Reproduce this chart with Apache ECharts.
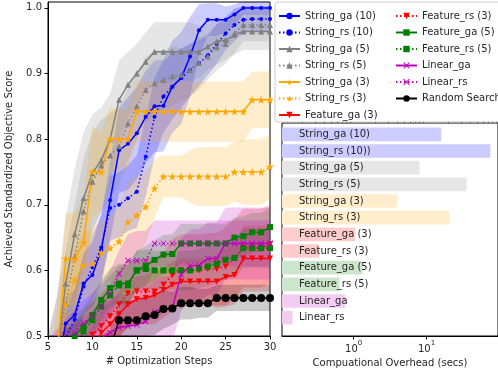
<!DOCTYPE html>
<html><head><meta charset="utf-8">
<script src="https://cdn.jsdelivr.net/npm/echarts@6/dist/echarts.min.js"></script>
<style>html,body{margin:0;padding:0;background:#fff}#chart{width:498px;height:379px}</style>
</head><body><div id="chart"></div>
<script>
// Optimization steps shown on the x axis
const steps = [5,6,7,8,9,10,11,12,13,14,15,16,17,18,19,20,21,22,23,24,25,26,27,28,29,30];

// Mean achieved standardized score per step
const strGa10 = [0.40,0.45,0.519,0.532,0.58,0.593,0.631,0.707,0.783,0.793,0.809,0.834,0.85,0.851,0.88,0.893,0.926,0.966,0.982,0.982,0.982,0.99,1.0,1.0,1.0,1.0];
const strRs10 = [0.40,0.45,0.497,0.525,0.575,0.605,0.635,0.695,0.70,0.71,0.72,0.773,0.834,0.865,0.88,0.893,0.905,0.916,0.928,0.945,0.961,0.974,0.982,0.983,0.983,0.983];
const strGa5 = [0.42,0.47,0.58,0.655,0.71,0.748,0.768,0.80,0.86,0.883,0.90,0.918,0.933,0.933,0.933,0.933,0.933,0.933,0.941,0.949,0.951,0.959,0.964,0.964,0.964,0.964];
const strRs5 = [0.42,0.48,0.55,0.62,0.69,0.735,0.76,0.775,0.789,0.824,0.85,0.875,0.885,0.89,0.896,0.898,0.905,0.916,0.926,0.94,0.945,0.961,0.974,0.974,0.974,0.974];
const strGa3 = [0.38,0.47,0.618,0.617,0.643,0.75,0.75,0.80,0.80,0.80,0.842,0.842,0.842,0.842,0.842,0.842,0.842,0.842,0.842,0.842,0.842,0.842,0.842,0.86,0.86,0.86];
const strRs3 = [0.40,0.45,0.548,0.585,0.608,0.61,0.627,0.634,0.644,0.674,0.684,0.697,0.725,0.743,0.743,0.743,0.743,0.743,0.743,0.743,0.743,0.75,0.75,0.75,0.75,0.758];
const featGa3 = [0.42,0.43,0.44,0.45,0.46,0.48,0.505,0.518,0.533,0.548,0.556,0.558,0.562,0.57,0.578,0.583,0.583,0.583,0.583,0.583,0.59,0.593,0.618,0.618,0.618,0.618];
const featRs3 = [0.44,0.45,0.46,0.47,0.485,0.502,0.515,0.53,0.548,0.565,0.568,0.568,0.568,0.578,0.593,0.60,0.60,0.60,0.602,0.602,0.606,0.618,0.634,0.634,0.634,0.64];
const featGa5 = [0.44,0.46,0.48,0.50,0.514,0.532,0.555,0.573,0.58,0.58,0.60,0.607,0.616,0.624,0.625,0.641,0.641,0.641,0.641,0.641,0.641,0.65,0.652,0.658,0.658,0.666];
const featRs5 = [0.45,0.465,0.48,0.49,0.507,0.524,0.545,0.562,0.577,0.577,0.60,0.602,0.60,0.60,0.60,0.60,0.60,0.603,0.606,0.61,0.616,0.619,0.634,0.634,0.634,0.634];
const linGa = [0.44,0.45,0.46,0.47,0.48,0.49,0.497,0.505,0.513,0.515,0.517,0.522,0.537,0.541,0.542,0.594,0.607,0.608,0.618,0.618,0.641,0.641,0.641,0.641,0.641,0.641];
const linRs = [0.46,0.475,0.49,0.505,0.52,0.53,0.545,0.565,0.595,0.615,0.615,0.615,0.641,0.641,0.641,0.641,0.641,0.641,0.641,0.641,0.641,0.641,0.641,0.641,0.641,0.641];
const randomSearch = [0.42,0.43,0.44,0.45,0.46,0.465,0.47,0.48,0.524,0.524,0.524,0.53,0.532,0.541,0.542,0.55,0.55,0.55,0.55,0.558,0.558,0.558,0.558,0.558,0.558,0.558];

// Spread (one standard deviation) around each mean
const sdStrGa10 = [0.04,0.04,0.04,0.04,0.045,0.05,0.055,0.06,0.065,0.07,0.07,0.07,0.07,0.07,0.07,0.07,0.06,0.04,0.025,0.025,0.02,0.015,0.01,0.01,0.01,0.01];
const sdStrRs10 = [0.04,0.04,0.04,0.045,0.045,0.05,0.05,0.05,0.05,0.05,0.055,0.06,0.06,0.055,0.05,0.045,0.04,0.035,0.03,0.03,0.025,0.025,0.02,0.02,0.02,0.02];
const sdStrGa5 = [0.08,0.09,0.1,0.1,0.1,0.09,0.08,0.07,0.06,0.05,0.045,0.045,0.045,0.045,0.045,0.045,0.045,0.04,0.035,0.035,0.03,0.03,0.028,0.028,0.028,0.028];
const sdStrRs5 = [0.08,0.08,0.08,0.08,0.08,0.075,0.07,0.065,0.06,0.055,0.05,0.05,0.05,0.045,0.045,0.04,0.04,0.04,0.035,0.035,0.03,0.03,0.025,0.025,0.025,0.025];
const sdStrGa3 = [0.07,0.07,0.07,0.07,0.07,0.07,0.06,0.05,0.045,0.045,0.046,0.046,0.046,0.046,0.046,0.046,0.046,0.046,0.046,0.046,0.046,0.046,0.046,0.043,0.043,0.043];
const sdStrRs3 = [0.05,0.05,0.05,0.05,0.05,0.05,0.05,0.05,0.055,0.06,0.06,0.055,0.045,0.032,0.032,0.032,0.04,0.045,0.045,0.045,0.045,0.045,0.05,0.05,0.05,0.05];
const sdFeatGa3 = [0.035,0.035,0.035,0.035,0.035,0.035,0.035,0.035,0.035,0.035,0.035,0.035,0.035,0.035,0.035,0.035,0.035,0.035,0.035,0.04,0.045,0.045,0.05,0.05,0.05,0.05];
const sdFeatRs3 = [0.05,0.05,0.05,0.05,0.05,0.05,0.05,0.05,0.05,0.05,0.05,0.05,0.05,0.05,0.055,0.055,0.055,0.055,0.055,0.055,0.06,0.06,0.06,0.06,0.06,0.06];
const sdFeatGa5 = [0.03,0.03,0.03,0.03,0.03,0.03,0.03,0.03,0.03,0.03,0.03,0.03,0.03,0.03,0.03,0.03,0.03,0.03,0.03,0.03,0.03,0.03,0.03,0.03,0.03,0.03];
const sdFeatRs5 = [0.03,0.03,0.03,0.03,0.03,0.03,0.03,0.03,0.03,0.03,0.03,0.03,0.03,0.03,0.03,0.03,0.03,0.03,0.03,0.03,0.03,0.03,0.03,0.03,0.03,0.03];
const sdLinGa = [0.05,0.05,0.05,0.05,0.05,0.05,0.05,0.05,0.05,0.05,0.05,0.05,0.05,0.05,0.05,0.055,0.055,0.055,0.055,0.055,0.055,0.055,0.055,0.055,0.055,0.055];
const sdLinRs = [0.035,0.035,0.035,0.035,0.035,0.035,0.035,0.035,0.035,0.04,0.045,0.045,0.035,0.035,0.035,0.035,0.035,0.035,0.035,0.035,0.035,0.035,0.035,0.035,0.035,0.035];
const sdRandom = [0.03,0.03,0.03,0.03,0.03,0.03,0.03,0.03,0.03,0.03,0.03,0.03,0.03,0.03,0.025,0.025,0.025,0.022,0.022,0.02,0.02,0.02,0.02,0.02,0.02,0.02];

// Method names in legend order
const methodNames = ['String_ga (10)','String_rs (10)','String_ga (5)','String_rs (5)','String_ga (3)','String_rs (3)','Feature_ga (3)','Feature_rs (3)','Feature_ga (5)','Feature_rs (5)','Linear_ga','Linear_rs','Random Search'];

// Computational overhead per method (seconds)
const barLabels = ['String_ga (10)','String_rs (10))','String_ga (5)','String_rs (5)','String_ga (3)','String_rs (3)','Feature_ga (3)','Feature_rs (3)','Feature_ga (5)','Feature_rs (5)','Linear_ga','Linear_rs'];
const overheadSecs = [15.9, 75, 8.0, 35.3, 4.0, 20.6, 1.05, 0.338, 1.32, 0.64, 0.77, 0.145];

const FONT = 'DejaVu Sans';
const TXT = '#262626';
const STAR = 'path://M50,0 L61,35 L98,35 L68,57 L79,91 L50,70 L21,91 L32,57 L2,35 L39,35 Z';
const CROSS = 'path://M1,0 L5,4 L9,0 L10,1 L6,5 L10,9 L9,10 L5,6 L1,10 L0,9 L4,5 L0,1 Z';

const methods = [
  {mean: strGa10, sd: sdStrGa10, color: '#0000ff', dash: 'solid', symbol: 'circle', size: 4, rot: 0},
  {mean: strRs10, sd: sdStrRs10, color: '#0000ff', dash: [1.5,2.5], symbol: 'circle', size: 4, rot: 0},
  {mean: strGa5, sd: sdStrGa5, color: '#808080', dash: 'solid', symbol: 'triangle', size: 6, rot: 0},
  {mean: strRs5, sd: sdStrRs5, color: '#808080', dash: [1.5,2.5], symbol: 'triangle', size: 6, rot: 0},
  {mean: strGa3, sd: sdStrGa3, color: '#ffa500', dash: 'solid', symbol: STAR, size: 8, rot: 0},
  {mean: strRs3, sd: sdStrRs3, color: '#ffa500', dash: [1.5,2.5], symbol: STAR, size: 8, rot: 0},
  {mean: featGa3, sd: sdFeatGa3, color: '#ff0000', dash: 'solid', symbol: 'triangle', size: 6, rot: 180},
  {mean: featRs3, sd: sdFeatRs3, color: '#ff0000', dash: [1.5,2.5], symbol: 'triangle', size: 6, rot: 180},
  {mean: featGa5, sd: sdFeatGa5, color: '#008000', dash: 'solid', symbol: 'rect', size: 6, rot: 0},
  {mean: featRs5, sd: sdFeatRs5, color: '#008000', dash: [1.5,2.5], symbol: 'rect', size: 6, rot: 0},
  {mean: linGa, sd: sdLinGa, color: '#bf00bf', dash: 'solid', symbol: CROSS, size: 6, rot: 0},
  {mean: linRs, sd: sdLinRs, color: '#bf00bf', dash: [1.5,2.5], symbol: CROSS, size: 6, rot: 0},
  {mean: randomSearch, sd: sdRandom, color: '#000000', dash: 'solid', symbol: 'circle', size: 8, rot: 0}
];

function hexA(hex, a) {
  const n = parseInt(hex.slice(1), 16);
  return 'rgba(' + (n >> 16) + ',' + ((n >> 8) & 255) + ',' + (n & 255) + ',' + a + ')';
}

// Shaded mean ± sd band as one polygon, projected through the axes
function bandRenderer(lo, hi, fill) {
  return function (params, api) {
    if (params.dataIndex !== 0) return null;
    const upper = steps.map((x, i) => api.coord([x, hi[i]]));
    const lower = steps.map((x, i) => api.coord([x, lo[i]])).reverse();
    return {type: 'polygon', shape: {points: upper.concat(lower)}, style: {fill: fill, stroke: null}};
  };
}

const series = [];
methods.forEach((m, k) => {
  const name = methodNames[k];
  const lo = m.mean.map((v, i) => v - m.sd[i]);
  const hi = m.mean.map((v, i) => v + m.sd[i]);
  series.push({
    type: 'line', name: name, xAxisIndex: 0, yAxisIndex: 0,
    data: steps.map((x, i) => [x, m.mean[i]]),
    symbol: m.symbol, symbolSize: m.size, symbolRotate: m.rot, showSymbol: true,
    lineStyle: {color: m.color, width: 1.5, type: m.dash},
    itemStyle: {color: m.color},
    z: 2, silent: true
  });
  series.push({
    type: 'custom', name: name + ' band', xAxisIndex: 0, yAxisIndex: 0,
    data: steps.map((x, i) => [x, lo[i], hi[i]]),
    encode: {x: 0, y: [1, 2]},
    renderItem: bandRenderer(lo, hi, hexA(m.color, 0.2)),
    clip: true, z: 2, silent: true
  });
});

// Horizontal bars of computational overhead, pale versions of the method colours
const barColors = ['#ccccff','#ccccff','#e6e6e6','#e6e6e6','#ffedcc','#ffedcc','#ffcccc','#ffcccc','#cce6cc','#cce6cc','#f2ccf2','#f2ccf2'];
const LOGMIN = 0.1042, LOGMAX = 95.3;
series.push({
  type: 'bar', name: 'overhead', xAxisIndex: 1, yAxisIndex: 1,
  data: overheadSecs.map((v, i) => ({value: v, itemStyle: {color: barColors[i]}})),
  barWidth: '82%', silent: true,
  label: {show: true, position: [17, '50%'], verticalAlign: 'middle', align: 'left',
          formatter: p => barLabels[p.dataIndex], color: TXT, fontFamily: FONT, fontSize: 10}
});

const minorTicks = [0.2,0.3,0.4,0.5,0.6,0.7,0.8,0.9,2,3,4,5,6,7,8,9,20,30,40,50,60,70,80,90];

const legendCommon = {
  orient: 'vertical', itemWidth: 21, itemHeight: 8, itemGap: 4.5,
  textStyle: {fontFamily: FONT, fontSize: 10, color: TXT, lineHeight: 12},
  selectedMode: false
};

const option = {
  animation: false,
  backgroundColor: '#fff',
  grid: [
    {left: 48, right: 228, top: 2, bottom: 43, show: true, borderColor: '#000', borderWidth: 1, containLabel: false},
    {left: 282, right: -4, top: 126, bottom: 53, containLabel: false},
    {left: 282, right: -4, top: 123, bottom: 43, show: true, borderColor: '#000', borderWidth: 1, containLabel: false}
  ],
  xAxis: [
    {type: 'value', gridIndex: 0, min: 5, max: 30, interval: 5,
     name: '# Optimization Steps', nameLocation: 'middle', nameGap: 20,
     nameTextStyle: {fontFamily: FONT, fontSize: 10, color: TXT},
     axisLine: {show: true, lineStyle: {color: '#000', width: 1}},
     axisTick: {show: true, length: 3.5, lineStyle: {color: '#000'}},
     axisLabel: {fontFamily: FONT, fontSize: 10, color: TXT, margin: 6},
     splitLine: {show: false}},
    {type: 'log', gridIndex: 1, min: LOGMIN, max: LOGMAX, startValue: LOGMIN, show: false},
    {type: 'log', gridIndex: 2, min: LOGMIN, max: LOGMAX,
     name: 'Compuational Overhead (secs)', nameLocation: 'middle', nameGap: 21,
     nameTextStyle: {fontFamily: FONT, fontSize: 10, color: TXT},
     axisLine: {show: true, lineStyle: {color: '#000', width: 1}},
     axisTick: {show: true, length: 3.5, customValues: [1, 10], lineStyle: {color: '#000'}},
     axisLabel: {customValues: [1, 10], margin: 4, color: TXT, fontFamily: FONT,
       formatter: v => '{b|10}{s|' + Math.round(Math.log10(v)) + '}',
       rich: {b: {fontSize: 10, fontFamily: FONT, color: TXT, lineHeight: 14, verticalAlign: 'bottom'},
              s: {fontSize: 7, fontFamily: FONT, color: TXT, lineHeight: 14, verticalAlign: 'top'}}},
     splitLine: {show: false}},
    {type: 'log', gridIndex: 2, min: LOGMIN, max: LOGMAX,
     axisLine: {show: false},
     axisTick: {show: true, length: 2, customValues: minorTicks, lineStyle: {color: '#000'}},
     axisLabel: {show: false}, splitLine: {show: false}}
  ],
  yAxis: [
    {type: 'value', gridIndex: 0, min: 0.5, max: 1.009,
     name: 'Achieved Standardized Objective Score', nameLocation: 'middle', nameGap: 34,
     nameTextStyle: {fontFamily: FONT, fontSize: 10, color: TXT},
     axisLine: {show: true, lineStyle: {color: '#000', width: 1}},
     axisTick: {show: true, length: 3.5, customValues: [0.5,0.6,0.7,0.8,0.9,1.0], lineStyle: {color: '#000'}},
     axisLabel: {customValues: [0.5,0.6,0.7,0.8,0.9,1.0], formatter: v => v.toFixed(1),
                 fontFamily: FONT, fontSize: 10, color: TXT, margin: 6},
     splitLine: {show: false}},
    {type: 'category', gridIndex: 1, data: barLabels, inverse: true, show: false},
    {type: 'value', gridIndex: 2, min: 0, max: 1, show: false}
  ],
  legend: [
    Object.assign({}, legendCommon, {
      data: methodNames.slice(0, 7), left: 275, top: 2,
      padding: [8, 140, 1, 3],
      backgroundColor: 'rgba(255,255,255,0.9)', borderColor: '#cccccc', borderWidth: 1, borderRadius: 3
    }),
    Object.assign({}, legendCommon, {
      data: methodNames.slice(7), left: 395, top: 2, padding: [8, 0, 0, 0]
    })
  ],
  series: series
};

const chart = echarts.init(document.getElementById('chart'), null, {renderer: 'canvas'});
chart.setOption(option);
</script></body></html>
